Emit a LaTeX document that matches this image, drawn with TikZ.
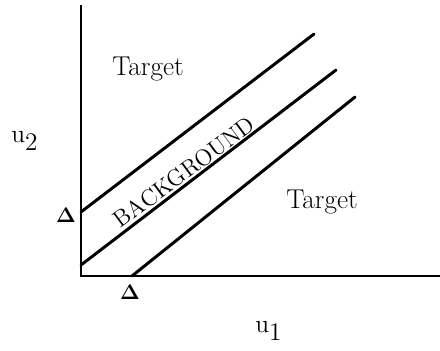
\documentclass[tikz,border=0pt]{standalone}
\usepackage{amsmath, amssymb, bm}
\usepackage{tikz}

\begin{document}
\begin{tikzpicture}[scale=1]
  % Define styles
  \tikzstyle{axis} = [line width=1.1pt]
  \tikzstyle{bound} = [line width=1.7pt, line cap=round]
  \tikzstyle{region} = [font=\fontsize{15.5}{18}\selectfont]
  \tikzstyle{tick} = [font=\large]

  % Page size
  \useasboundingbox (-1.62,-1.48) rectangle (7.18,5.52);

  % Axes
  \coordinate (orig) at (0,0);
  \coordinate (ytop) at (0,5.42);
  \coordinate (xend) at (7.18,0);
  \draw[axis] (ytop) -- (orig) -- (xend);

  % Boundary lines
  \coordinate (upA) at (0,1.28);
  \coordinate (upB) at (4.66,4.84);
  \coordinate (midA) at (0,0.22);
  \coordinate (midB) at (5.1,4.12);
  \coordinate (lowA) at (1.02,0);
  \coordinate (lowB) at (5.48,3.58);
  \draw[bound] (upA) -- (upB);
  \draw[bound] (midA) -- (midB);
  \draw[bound] (lowA) -- (lowB);

  % Offsets
  \node[tick] (dleft) at (-0.3,1.22) {$\bm{\Delta}$};
  \node[tick] (dbot) at (0.98,-0.32) {$\bm{\Delta}$};

  % Axis labels
  \node[region] (utwo) at (-1.12,2.7) {$\mathrm{u}_{\textstyle 2}$};
  \node[region] (uone) at (3.76,-1.1) {$\mathrm{u}_{\textstyle 1}$};

  % Regions
  \node[region] (tgtup) at (1.34,4.14) {Target};
  \node[region] (tgtlow) at (4.82,1.48) {Target};
  \node[font=\fontsize{13.2}{15}\selectfont, rotate=36.5, inner sep=0pt] (bg) at (2.06,2.08) {BACKGROUND};
\end{tikzpicture}
\end{document}
